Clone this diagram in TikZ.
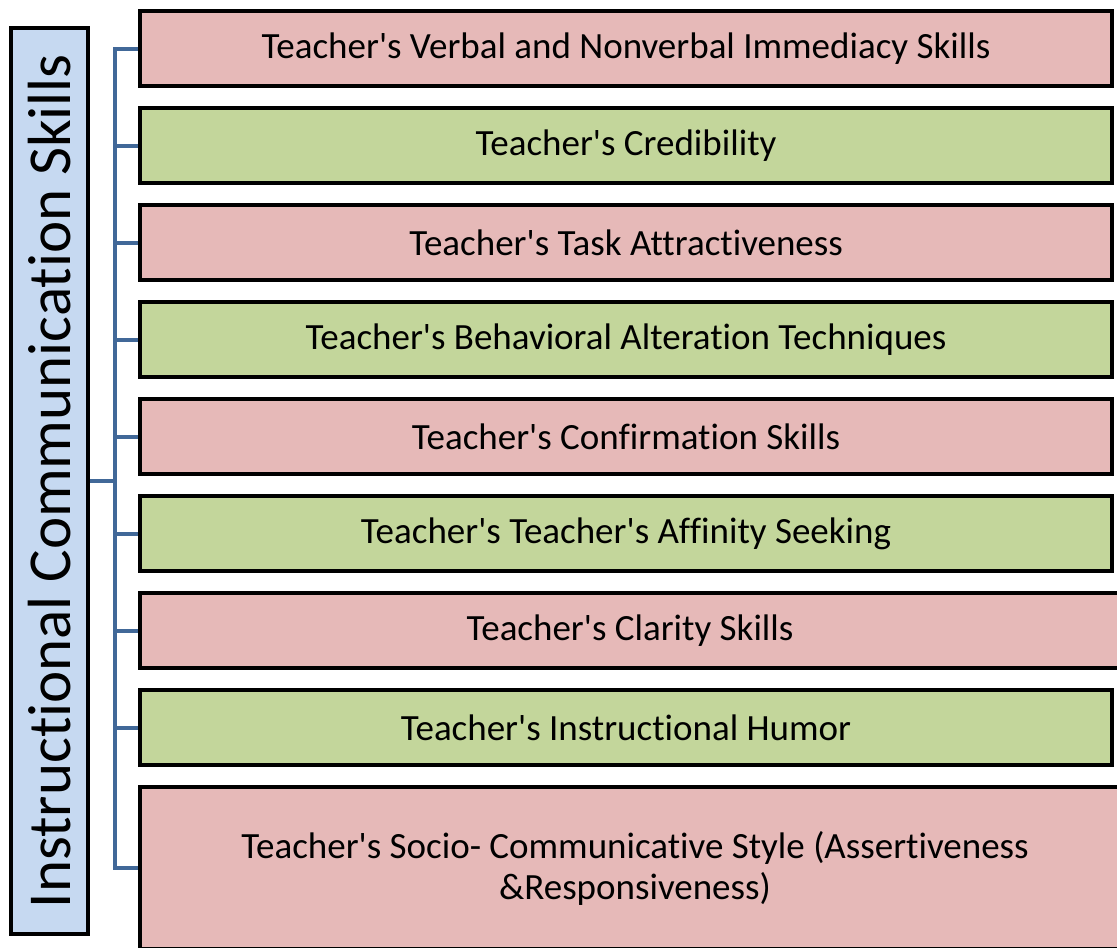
\documentclass[tikz,border=0pt]{standalone}
\usepackage{fontspec}
\setmainfont{Carlito}[Ligatures=NoCommon]
\usetikzlibrary{positioning}

\definecolor{skillred}{RGB}{230,185,184}
\definecolor{skillgreen}{RGB}{195,214,155}
\definecolor{skillblue}{RGB}{198,217,241}
\definecolor{linkblue}{RGB}{65,104,152}

\newcommand{\tch}{Teacher\textquotesingle s}

\tikzset{
  skill/.style={draw=black, line width=4.5pt, minimum width=972pt,
    minimum height=75pt, align=center, font=\fontsize{37}{41}\selectfont},
  link/.style={draw=linkblue, line width=4pt}
}

\begin{document}
\begin{tikzpicture}[x=1pt, y=-1pt, node distance=17.5pt and 0pt]
      \clip (0,0) rectangle (1117,948);
      \node (ics)[draw=black, line width=4.5pt, fill=skillblue, rotate=90,
        minimum width=906pt, minimum height=77pt,
        font=\fontsize{61}{70}\selectfont] at (49.5,481) {Instructional Communication Skills};
      \coordinate (trunk) at (115,0);
      \begin{scope}[every node/.style={skill}]
        \node (b1)[fill=skillred] at (626,48.5) {\tch{} Verbal and Nonverbal Immediacy Skills};
        \node (b2)[fill=skillgreen] [below right= of b1.south west] {\tch{} Credibility};
        \node (b3)[fill=skillred] [below right= of b2.south west] {\tch{} Task Attractiveness};
        \node (b4)[fill=skillgreen] [below right= of b3.south west] {\tch{} Behavioral Alteration Techniques};
        \node (b5)[fill=skillred] [below right= of b4.south west] {\tch{} Confirmation Skills};
        \node (b6)[fill=skillgreen] [below right= of b5.south west] {\tch{} \tch{} Affinity Seeking};
        \node (b7)[fill=skillred, minimum width=980pt] [below right= of b6.south west] {\tch{} Clarity Skills};
        \node (b8)[fill=skillgreen] [below right= of b7.south west] {\tch{} Instructional Humor};
        \node (b9)[fill=skillred, minimum width=990pt, minimum height=162pt]
          [below right= of b8.south west] {\tch{} Socio- Communicative Style (Assertiveness\\\&Responsiveness)};
      \end{scope}
      % tree connectors
      \draw[link] (b1.west) -- (b1.west -| trunk) -- (b9.west -| trunk) -- (b9.west);
      \foreach \i in {2,...,8}
        \draw[link] (b\i.west) -- (b\i.west -| trunk);
      \draw[link] (ics.south) -- (ics.south -| trunk);
\end{tikzpicture}
\end{document}
